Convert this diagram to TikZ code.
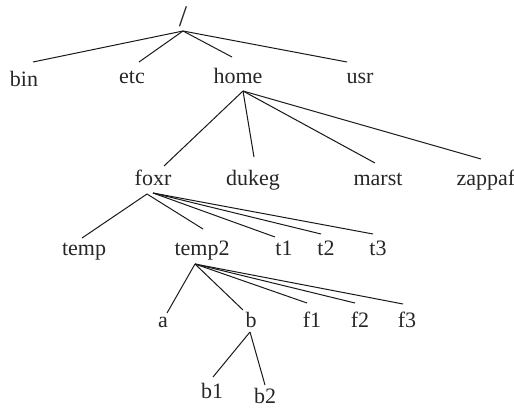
\documentclass[tikz,border=0pt]{standalone}
\usepackage{fontspec}
\setmainfont{Liberation Serif}
\begin{document}
\begin{tikzpicture}[x=1pt,y=-1pt,
  dirname/.style={anchor=base,inner sep=0pt,font=\fontsize{22}{26}\selectfont,text=black!85},
  edge/.style={draw=black!90,line width=1pt}]
\useasboundingbox (0,0) rectangle (514,407);

% directory names
\node[dirname,font=\fontsize{30}{34}\selectfont] (root) at (183,26) {/};
\node[dirname] (bin) at (24,86) {bin};
\node[dirname] (etc) at (132,83) {etc};
\node[dirname] (home) at (238,83) {home};
\node[dirname] (usr) at (360,83) {usr};
\node[dirname] (foxr) at (153,185) {foxr};
\node[dirname] (dukeg) at (253,185) {dukeg};
\node[dirname] (marst) at (378,185) {marst};
\node[dirname] (zappaf) at (486,185) {zappaf};
\node[dirname] (temp) at (84,255) {temp};
\node[dirname] (temp2) at (202,255) {temp2};
\node[dirname] (t1) at (284,255) {t1};
\node[dirname] (t2) at (326,255) {t2};
\node[dirname] (t3) at (378,255) {t3};
\node[dirname] (a) at (163,327) {a};
\node[dirname] (b) at (251,327) {b};
\node[dirname] (f1) at (312,327) {f1};
\node[dirname] (f2) at (360,327) {f2};
\node[dirname] (f3) at (407,327) {f3};
\node[dirname] (b1) at (212,398) {b1};
\node[dirname] (b2) at (265,403) {b2};

% fork points below each parent
\coordinate (root-j) at (183,31);
\coordinate (home-j) at (243,91);
\coordinate (foxr-j) at (147,194);
\coordinate (foxr-k) at (153,193);
\coordinate (temp2-j) at (195,264);
\coordinate (b-j) at (250,332);

% line ends above each child
\coordinate (bin-t) at (33,62);
\coordinate (etc-t) at (139,62);
\coordinate (home-t) at (232,57);
\coordinate (usr-t) at (347,62);
\coordinate (foxr-t) at (164,166);
\coordinate (dukeg-t) at (254,157);
\coordinate (marst-t) at (375,163);
\coordinate (zappaf-t) at (481,159);
\coordinate (temp-t) at (82,238);
\coordinate (temp2-t) at (203,229);
\coordinate (t1-t) at (275,237);
\coordinate (t2-t) at (321,234);
\coordinate (t3-t) at (373,234);
\coordinate (a-t) at (167,313);
\coordinate (b-t) at (243,310);
\coordinate (f1-t) at (307,303);
\coordinate (f2-t) at (355,303);
\coordinate (f3-t) at (403,304);
\coordinate (b1-t) at (213,377);
\coordinate (b2-t) at (265,385);

% tree edges
\foreach \c in {bin,etc,home,usr} \draw[edge] (root-j) -- (\c-t);
\foreach \c in {foxr,dukeg,marst,zappaf} \draw[edge] (home-j) -- (\c-t);
\foreach \c in {temp,temp2} \draw[edge] (foxr-j) -- (\c-t);
\foreach \c in {t1,t2,t3} \draw[edge] (foxr-k) -- (\c-t);
\foreach \c in {a,b,f1,f2,f3} \draw[edge] (temp2-j) -- (\c-t);
\foreach \c in {b1,b2} \draw[edge] (b-j) -- (\c-t);
\end{tikzpicture}
\end{document}
